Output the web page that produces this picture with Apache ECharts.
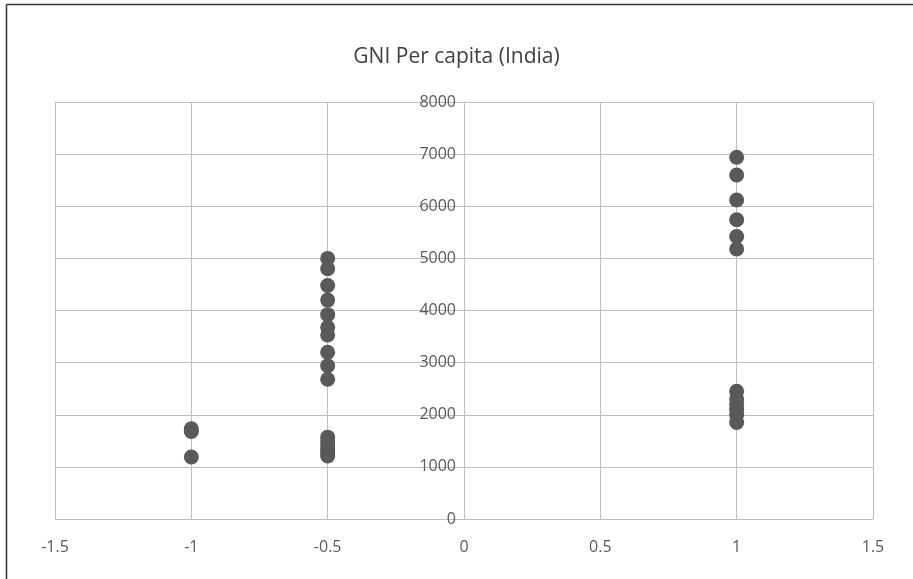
<!DOCTYPE html>
<html>
<head>
<meta charset="utf-8">
<script src="https://cdn.jsdelivr.net/npm/echarts@6/dist/echarts.min.js"></script>
<style>
  html, body { margin: 0; padding: 0; background: #fff; }
  #chart { width: 913px; height: 579px; }
</style>
</head>
<body>
<div id="chart"></div>
<script>
// x position of each cluster and the GNI values
var groupX = [-1, -0.5, 1];
var gniAtMinus1 = [1730, 1680, 1190];
var gniAtMinusHalf = [5000, 4800, 4480, 4200, 3920, 3680, 3530, 3200, 2940, 2680,
                      1570, 1480, 1400, 1330, 1270, 1210];
var gniAtOne = [6940, 6600, 6120, 5740, 5420, 5180,
                2450, 2300, 2200, 2100, 2000, 1850];
var xTicks = [-1.5, 1.5, 0.5];   // min, max, interval
var yTicks = [0, 8000, 1000];

var points = [];
[gniAtMinus1, gniAtMinusHalf, gniAtOne].forEach(function (vals, i) {
    vals.forEach(function (v) { points.push([groupX[i], v]); });
});

var textColor = '#595959';
var gridColor = '#bfbfbf';
var font = 'Open Sans';

var myChart = echarts.init(document.getElementById('chart'));
myChart.setOption({
    backgroundColor: '#fff',
    title: {
        text: 'GNI Per capita (India)',
        left: 'center',
        top: 42,
        textStyle: {
            fontFamily: font,
            fontSize: 21,
            fontWeight: 'normal',
            color: '#404040'
        }
    },
    graphic: [
        {type: 'line', shape: {x1: 6.5, y1: 4.5, x2: 6.5, y2: 579}, style: {stroke: '#333', lineWidth: 1.5}},
        {type: 'line', shape: {x1: 6.5, y1: 4.5, x2: 913, y2: 4.5}, style: {stroke: '#333', lineWidth: 1.5}}
    ],
    grid: {
        left: 55,
        right: 40,
        top: 102,
        bottom: 60
    },
    xAxis: {
        type: 'value',
        min: xTicks[0],
        max: xTicks[1],
        interval: xTicks[2],
        axisLine: {onZero: false, lineStyle: {color: gridColor}},
        axisTick: {show: false},
        splitLine: {lineStyle: {color: gridColor}},
        axisLabel: {
            color: textColor,
            fontFamily: font,
            fontSize: 16,
            margin: 20,
            formatter: function (v) { return String(v); }
        }
    },
    yAxis: {
        type: 'value',
        min: yTicks[0],
        max: yTicks[1],
        interval: yTicks[2],
        // y axis sits at x = 0, in the middle of the plot
        offset: -409,
        axisLine: {show: true, onZero: false, lineStyle: {color: gridColor}},
        axisTick: {show: false},
        splitLine: {lineStyle: {color: gridColor}},
        axisLabel: {
            color: textColor,
            fontFamily: font,
            fontSize: 16,
            margin: 8,
            formatter: function (v) { return String(v); }
        }
    },
    series: [{
        type: 'scatter',
        symbol: 'circle',
        symbolSize: 15,
        itemStyle: {color: '#595959', opacity: 1},
        data: points
    }]
});
</script>
</body>
</html>
